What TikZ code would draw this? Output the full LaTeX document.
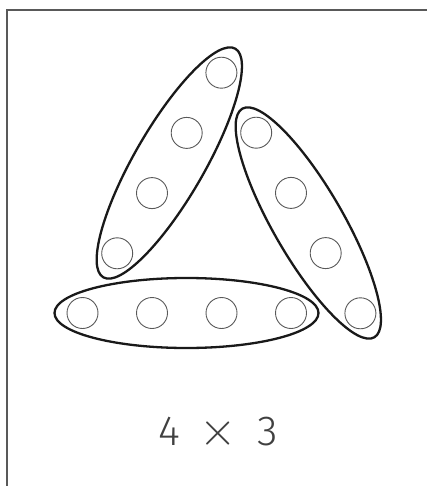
\documentclass[tikz,border=0pt]{standalone}
\usepackage{fontspec}
\setmainfont{Fira Sans}
\newfontfamily\lightfont{Fira Sans Light}
\begin{document}
\begin{tikzpicture}[x=1pt,y=-1pt,
  dot/.style={circle,draw=black!65,line width=0.9pt,minimum size=31pt,inner sep=0pt},
  group/.style={draw=black!90,line width=2.3pt},
  framestyle/.style={draw=black!65,line width=1.3pt},
  labelstyle/.style={text=black!75, inner sep=0pt, font=\lightfont\fontsize{42}{48}\selectfont}]
\useasboundingbox (0,0) rectangle (427,486);
\fill[white] (0,0) rectangle (427,486);
% frame
\draw[framestyle] (427,10) -- (7,10) -- (7,486);
% bottom group
\node[dot] (b1) at (82.5,313) {};
\node[dot] (b2) at (152,313) {};
\node[dot] (b3) at (221.5,313) {};
\node[dot] (b4) at (291,313) {};
\draw[group] (186.5,313) ellipse [x radius=132pt, y radius=35pt];
% left group
\node[dot] (l1) at (221.4,72.7) {};
\node[dot] (l2) at (186.7,132.9) {};
\node[dot] (l3) at (152,193.1) {};
\node[dot] (l4) at (117.2,253.3) {};
\draw[group, rotate around={60:(169.3,163)}] (169.3,163) ellipse [x radius=132pt, y radius=35pt];
% right group
\node[dot] (r1) at (256.2,132.7) {};
\node[dot] (r2) at (291,192.9) {};
\node[dot] (r3) at (325.7,253.1) {};
\node[dot] (r4) at (360.4,313.3) {};
\draw[group, rotate around={-60:(308.3,223)}] (308.3,223) ellipse [x radius=132pt, y radius=35pt];
% label
\node[labelstyle, anchor=base] (four) at (169.5,445) {4};
\node[text=black!75, inner sep=0pt] (times) at (218.5,433.5) {\scalebox{4.8}{$\times$}};
\node[labelstyle, anchor=base] (three) at (268,445) {3};
\end{tikzpicture}
\end{document}
